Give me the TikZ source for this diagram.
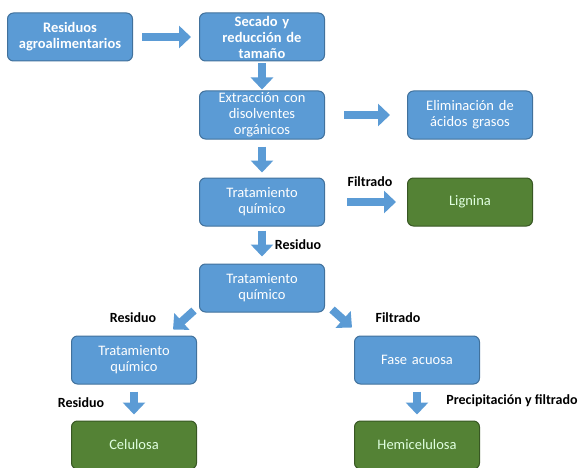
\documentclass[tikz,border=0pt]{standalone}
\usepackage{fontspec}
\setmainfont{Carlito}
\usetikzlibrary{arrows.meta,positioning}
\definecolor{azul}{RGB}{91,155,213}
\definecolor{azulborde}{RGB}{65,113,156}
\definecolor{verde}{RGB}{84,130,53}
\definecolor{verdeborde}{RGB}{56,87,35}
\tikzstyle{paso} = [rectangle, rounded corners=6pt, minimum width=125pt, minimum height=48pt, text width=122pt, inner sep=0pt, align=center, font=\fontsize{14.5}{16}\selectfont, text=white, draw=azulborde, line width=1pt, fill=azul]
\tikzstyle{pasob} = [paso, font=\fontsize{14.5}{16}\selectfont\bfseries]
\tikzstyle{producto} = [paso, fill=verde, draw=verdeborde, text=white!88!green]
\tikzstyle{etiqueta} = [font=\fontsize{14}{16}\selectfont\bfseries, text=black, inner sep=0pt]
\tikzstyle{flecha} = [draw=azul, line width=8pt, -{Triangle[width=22pt,length=12pt]}]

\begin{document}
\begin{tikzpicture}[x=1pt, y=-1pt]
\useasboundingbox (0,0) rectangle (583,468);

\node (start) [pasob] at (70,37) {Residuos\\agroalimentarios};
\node (secado) [pasob, right of=start, node distance=192pt] {Secado y\\reducción de\\tamaño};
\node (extrac) [paso, below of=secado, node distance=78pt] {Extracción con\\disolventes\\orgánicos};
\node (elim) [paso, right of=extrac, node distance=208pt] {Eliminación de\\ácidos grasos};
\node (trat1) [paso, below of=extrac, node distance=87pt] {Tratamiento\\químico};
\node (lignina) [producto, right of=trat1, node distance=208pt] {Lignina};
\node (trat2) [paso, below of=trat1, node distance=86pt] {Tratamiento\\químico};

\node (trat3) [paso, below of=trat2, node distance=72pt, xshift=-128pt] {Tratamiento\\químico};
\node (fase) [paso, below of=trat2, node distance=72pt, xshift=155pt] {Fase acuosa};
\node (celulosa) [producto, below of=trat3, node distance=85pt] {Celulosa};
\node (hemi) [producto, below of=fase, node distance=85pt] {Hemicelulosa};

%labels
\node (filt1) [etiqueta] at (370,182) {Filtrado};
\node (res1) [etiqueta] at (298,245) {Residuo};
\node (res2) [etiqueta] at (133,318) {Residuo};
\node (filt2) [etiqueta] at (398,318) {Filtrado};
\node (res3) [etiqueta] at (81,403) {Residuo};
\node (precip) [etiqueta] at (512,401) {Precipitación y filtrado};

%arrows
\draw [flecha, shorten <=9pt, shorten >=8pt] (start) -- (secado);
\draw [flecha, shorten <=2pt, shorten >=1pt] (secado) -- (extrac);
\draw [flecha, shorten <=19pt, shorten >=17pt] (extrac) -- (elim);
\draw [flecha, shorten <=7pt, shorten >=5pt] (extrac) -- (trat1);
\draw [flecha, shorten <=22pt, shorten >=11pt] (trat1) -- (lignina);
\draw [flecha, shorten <=4pt, shorten >=7pt] (trat1) -- (trat2);
\draw [flecha] ([xshift=-5pt,yshift=2pt]trat2.south west) -- ([xshift=-24pt,yshift=6pt]trat3.north east);
\draw [flecha] ([xshift=7pt,yshift=3pt]trat2.south east) -- ([xshift=-2pt,yshift=8pt]fase.north west);
\draw [flecha, shorten <=7pt, shorten >=6pt] (trat3) -- (celulosa);
\draw [flecha, shorten <=7pt, shorten >=6pt] (fase) -- (hemi);
\end{tikzpicture}
\end{document}
